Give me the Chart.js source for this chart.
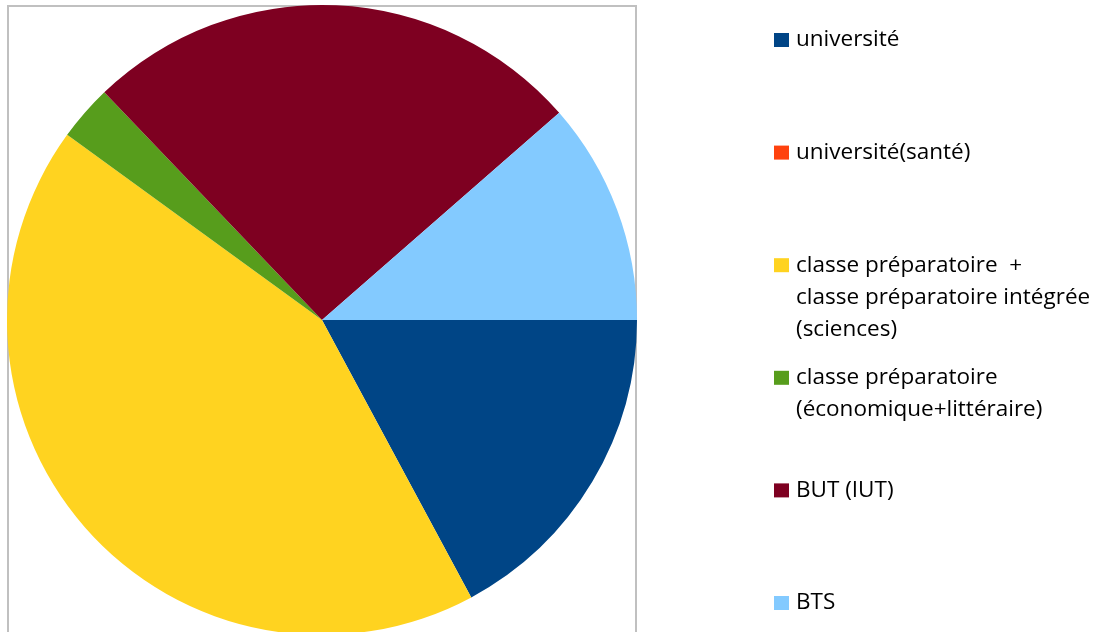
<!DOCTYPE html>
<html>
<head>
<meta charset="utf-8">
<script src="https://cdn.jsdelivr.net/npm/chart.js@4/dist/chart.umd.min.js"></script>
<style>
  html, body { margin: 0; padding: 0; overflow: hidden; background: #fff; }
  #wrap { width: 1111px; height: 640px; }
</style>
</head>
<body>
<div id="wrap"><canvas id="pieChart" width="1111" height="640"></canvas></div>
<script>
// legend labels (one entry per line)
var labels = [
    ["université"],
    ["université(santé)"],
    ["classe préparatoire  +", "classe préparatoire intégrée", "(sciences)"],
    ["classe préparatoire", "(économique+littéraire)"],
    ["BUT (IUT)"],
    ["BTS"]
];
var values = [6, 0, 15, 1, 9, 4];
var colors = ["#004586", "#ff420e", "#ffd320", "#579d1c", "#7e0021", "#83caff"];

var FONT = '22.5px "Open Sans"';

// grey frame round the plot area
var framePlugin = {
    id: 'frame',
    beforeDraw: function (chart) {
        var ctx = chart.ctx;
        ctx.save();
        ctx.strokeStyle = '#c0c0c0';
        ctx.lineWidth = 2;
        ctx.strokeRect(8, 6, 628, 700);
        ctx.restore();
    }
};

// legend on the right, drawn by hand because of the multi-line labels
var legendPlugin = {
    id: 'sideLegend',
    afterDraw: function (chart) {
        var ctx = chart.ctx;
        ctx.save();
        ctx.font = FONT;
        ctx.textBaseline = 'middle';
        for (var i = 0; i < labels.length; i++) {
            var y = 40 + i * 112.6;
            ctx.fillStyle = colors[i];
            ctx.fillRect(774, y - 7, 15, 14);
            ctx.fillStyle = '#000';
            for (var j = 0; j < labels[i].length; j++) {
                ctx.fillText(labels[i][j], 796, y + j * 32);
            }
        }
        ctx.restore();
    }
};

new Chart(document.getElementById('pieChart'), {
    type: 'pie',
    data: {
        labels: labels.map(function (l) { return l.join(' '); }),
        datasets: [{
            data: values,
            backgroundColor: colors,
            borderWidth: 0
        }]
    },
    options: {
        responsive: false,
        animation: false,
        rotation: 90,
        layout: { padding: { left: 7, right: 474, top: 5, bottom: 5 } },
        plugins: {
            legend: { display: false },
            tooltip: { enabled: false }
        }
    },
    plugins: [framePlugin, legendPlugin]
});
</script>
</body>
</html>
